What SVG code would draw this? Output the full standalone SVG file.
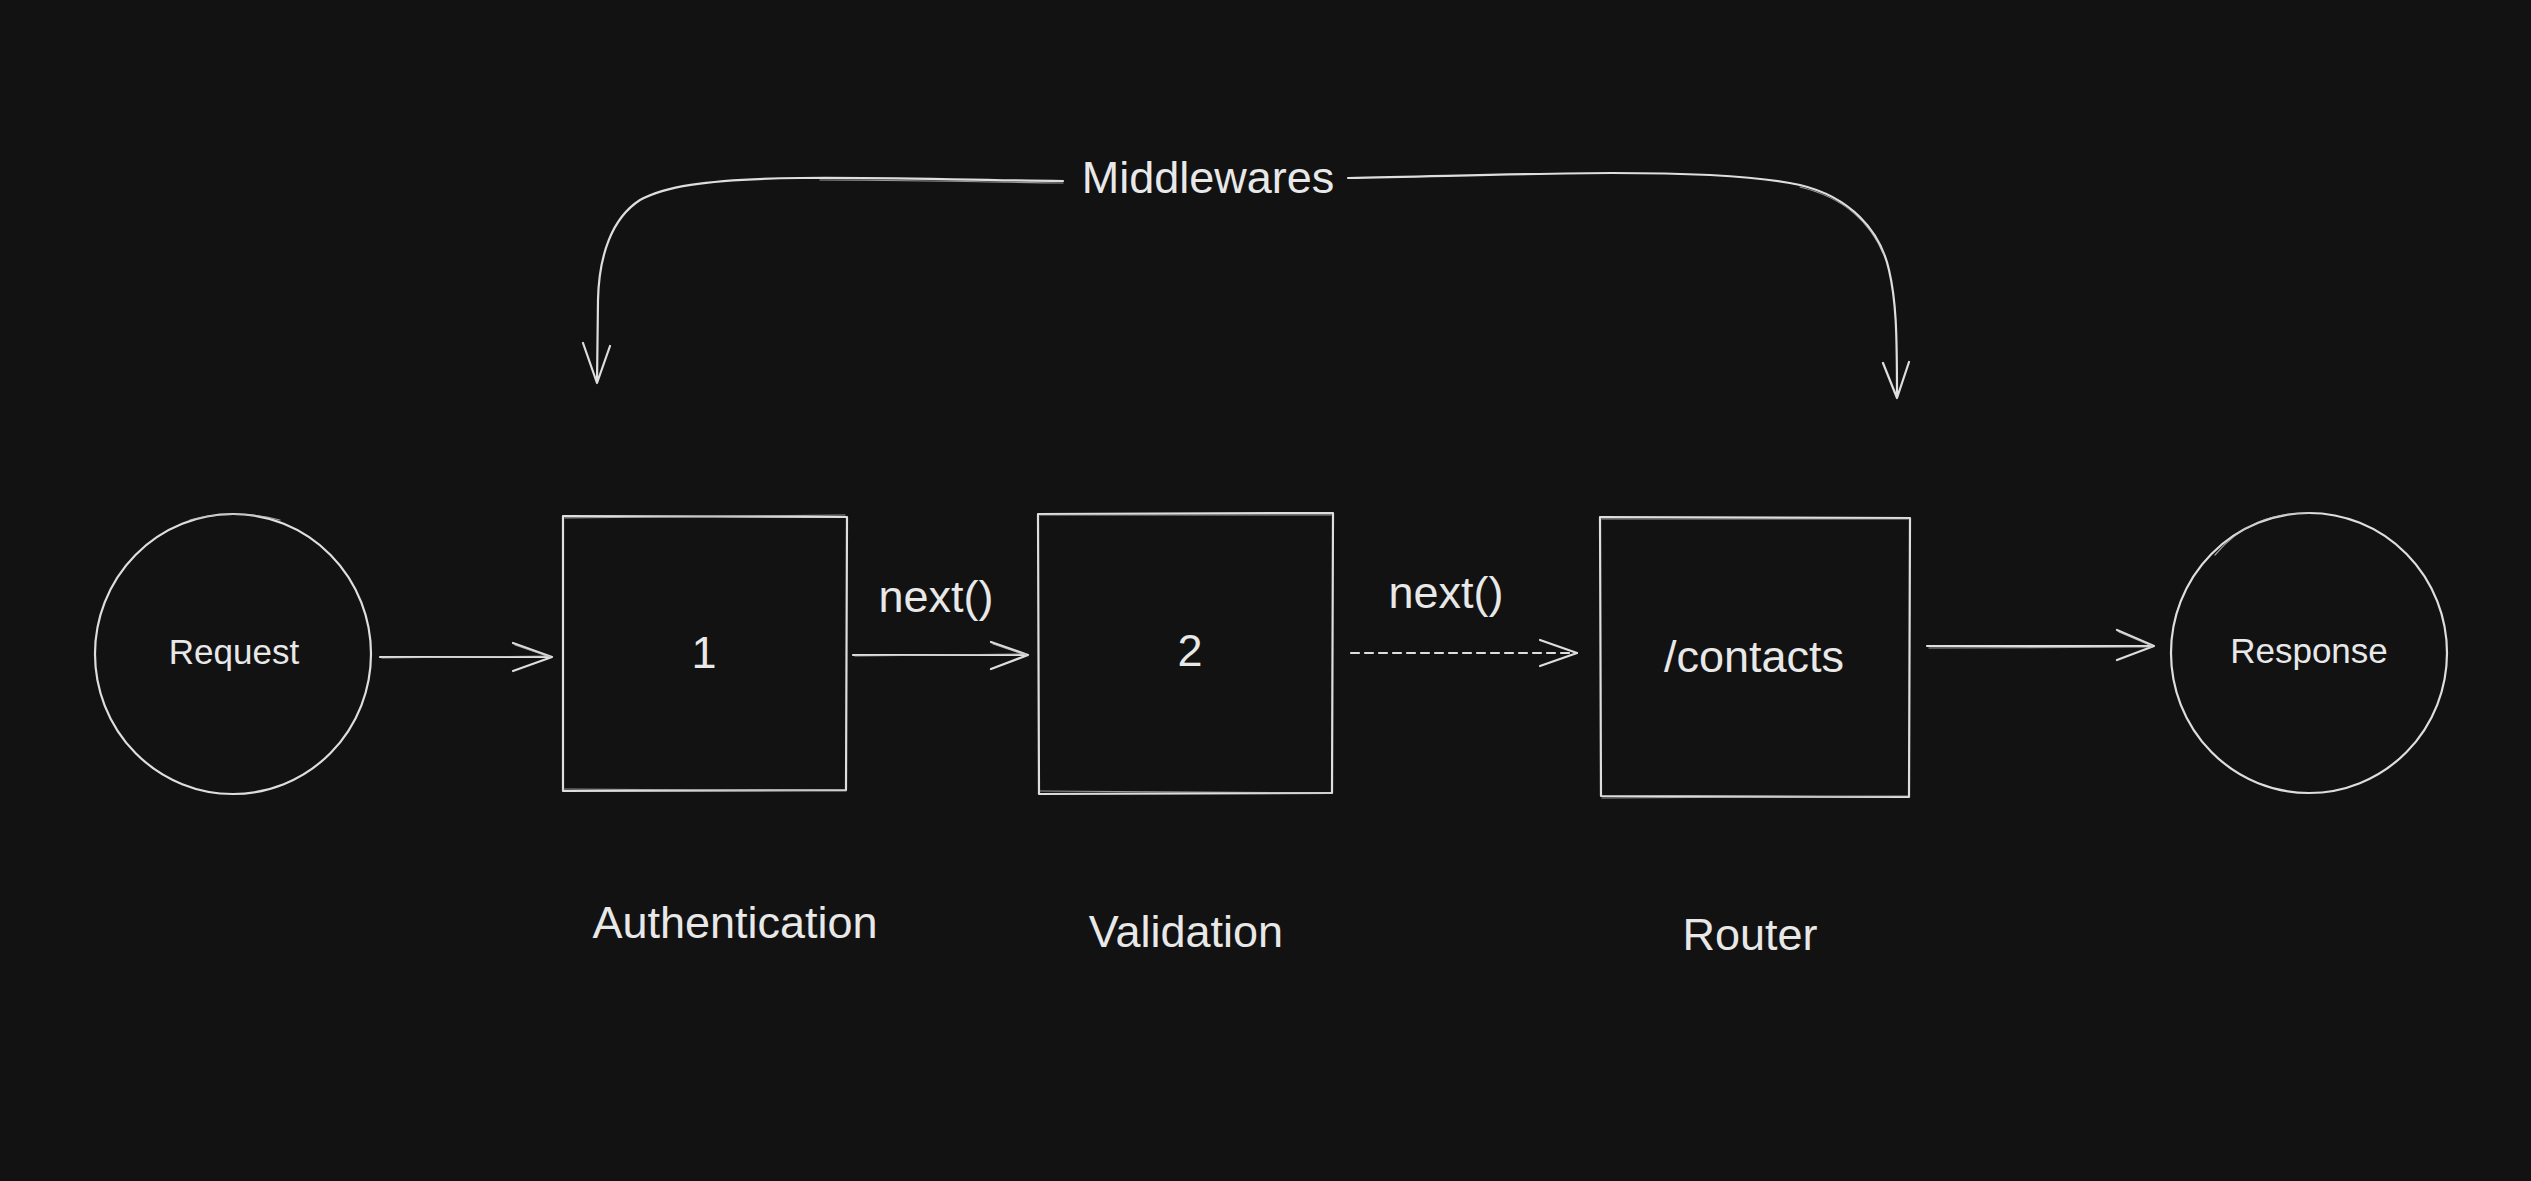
<svg xmlns="http://www.w3.org/2000/svg" width="2531" height="1181" viewBox="0 0 2531 1181">
<style>
.bg{fill:#121212}
.s{fill:none;stroke:#dedede;stroke-width:2.2;stroke-linecap:round;stroke-linejoin:round}
.s2{fill:none;stroke:#bdbdbd;stroke-width:1.2;stroke-linecap:round;opacity:0.8}
.t{fill:#e8e8e8;font-family:"Liberation Sans",Arial,sans-serif;text-anchor:middle}
.big{font-size:45px}
.sm{font-size:35px}
</style>
<rect class="bg" x="0" y="0" width="2531" height="1181"/>

<g id="request">
  <ellipse class="s" cx="233" cy="654" rx="138" ry="140"/>
  <path class="s2" d="M190 520 C215 513 250 512 280 520"/>
  <text class="t sm" x="234" y="664">Request</text>
</g>

<g id="auth">
  <path class="s" d="M563 516 L847 517 L846 790 L563 791 Z"/>
  <path class="s2" d="M565 518 L845 515 M563 789 L846 791"/>
  <text class="t big" x="704" y="668">1</text>
</g>

<g id="validation">
  <path class="s" d="M1038 514 L1333 513 L1332 793 L1039 794 Z"/>
  <path class="s2" d="M1040 515 L1331 515 M1040 791 L1330 793"/>
  <text class="t big" x="1190" y="666">2</text>
</g>

<g id="router">
  <path class="s" d="M1600 517 L1910 518 L1909 797 L1601 796 Z"/>
  <path class="s2" d="M1602 519 L1908 519 M1602 798 L1908 796"/>
  <text class="t big" x="1754" y="672">/contacts</text>
</g>

<g id="response">
  <ellipse class="s" cx="2309" cy="653" rx="138" ry="140"/>
  <path class="s2" d="M2215 555 C2240 525 2270 513 2310 513"/>
  <text class="t sm" x="2309" y="663">Response</text>
</g>

<g id="labels">
  <text class="t big" x="1208" y="193">Middlewares</text>
  <text class="t big" x="936" y="612">next()</text>
  <text class="t big" x="1446" y="608">next()</text>
  <text class="t big" x="735" y="938">Authentication</text>
  <text class="t big" x="1186" y="947">Validation</text>
  <text class="t big" x="1750" y="950">Router</text>
</g>

<g id="connectors">
  <path class="s" d="M380 657 L552 657 M513 643 L552 657 L513 671"/>
  <path class="s2" d="M382 658 L550 656 M515 645 L550 657"/>
  <path class="s" d="M853 655 L1028 655 M991 642 L1028 655 L991 669"/>
  <path class="s2" d="M855 656 L1026 654 M993 644 L1026 655"/>
  <path class="s" stroke-dasharray="8 6" d="M1351 653 L1577 653"/>
  <path class="s" d="M1540 640 L1577 653 L1540 666"/>
  <path class="s" d="M1927 646 L2154 646 M2117 630 L2154 646 L2117 660"/>
  <path class="s2" d="M1929 648 L2152 647 M2119 632 L2152 646"/>
  <path class="s" d="M1063 181 C960 180 870 177 800 178 C700 179 662 188 640 200 C612 218 599 255 598 300 L597 383 M583 343 L597 383 L610 346"/>
  <path class="s2" d="M1063 183 C980 182 900 180 820 180"/>
  <path class="s" d="M1348 178 C1450 176 1550 173 1612 173 C1700 173 1760 176 1800 185 C1850 197 1880 230 1889 270 C1896 300 1897 330 1897 398 M1883 363 L1897 398 L1909 362"/>
  <path class="s2" d="M1800 187 C1845 198 1870 222 1884 255"/>
</g>
</svg>
